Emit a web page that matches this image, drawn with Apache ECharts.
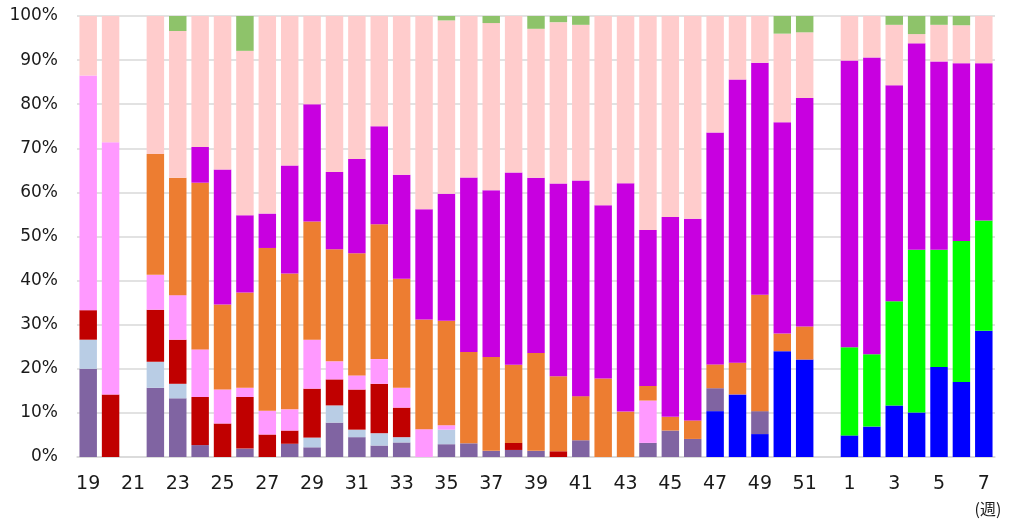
<!DOCTYPE html>
<html>
<head>
<meta charset="utf-8">
<script src="https://cdn.jsdelivr.net/npm/echarts@6/dist/echarts.min.js"></script>
<style>
  html, body { margin: 0; padding: 0; background: #fff; }
  #chart { width: 1009px; height: 519px; }
</style>
</head>
<body>
<div id="chart"></div>
<script>
// Weekly share (%) of each group, week 19 through week 7 of the following year
const weeks = ['19','20','21','22','23','24','25','26','27','28','29','30','31','32','33','34','35','36','37','38','39','40','41','42','43','44','45','46','47','48','49','50','51','52','1','2','3','4','5','6','7'];

const blueShare    = [0,0,null,0,0,0,0,0,0,0,0,0,0,0,0,0,0,0,0,0,0,0,0,0,0,0,0,0,10.4,14.2,5.2,24.0,22.1,null,4.9,6.9,11.7,10.1,20.4,17.0,28.6];
const greenShare   = [0,0,null,0,0,0,0,0,0,0,0,0,0,0,0,0,0,0,0,0,0,0,0,0,0,0,0,0,0,0,0,0,0,null,20.0,16.4,23.6,36.9,26.6,32.0,25.0];
const violetShare  = [20.0,0,null,15.7,13.3,2.7,0,1.9,0,3.0,2.2,7.8,4.5,2.6,3.3,0,2.9,3.1,1.4,1.6,1.4,0,3.8,0,0,3.2,6.0,4.1,5.2,0,5.2,0,0,null,0,0,0,0,0,0,0];
const skyShare     = [6.6,0,null,5.9,3.3,0,0,0,0,0,2.2,3.9,1.7,2.8,1.2,0,3.3,0,0,0,0,0,0,0,0,0,0,0,0,0,0,0,0,null,0,0,0,0,0,0,0];
const redShare     = [6.7,14.2,null,11.8,10.0,10.9,7.6,11.7,5.1,3.0,11.1,5.9,9.1,11.2,6.7,0,0,0,0,1.6,0,1.3,0,0,0,0,0,0,0,0,0,0,0,null,0,0,0,0,0,0,0];
const pinkShare    = [53.2,57.2,null,7.9,10.1,10.8,7.7,2.1,5.4,4.8,11.1,4.1,3.2,5.6,4.5,6.3,1.0,0,0,0,0,0,0,0,0,9.6,0,0,0,0,0,0,0,null,0,0,0,0,0,0,0];
const orangeShare  = [0,0,null,27.4,26.6,37.8,19.3,21.6,36.9,30.8,26.8,25.4,27.7,30.6,24.7,24.9,23.7,20.7,21.3,17.7,22.2,17.0,10.0,17.8,10.3,3.3,3.1,4.2,5.4,7.2,26.4,4.0,7.5,null,0,0,0,0,0,0,0];
const magentaShare = [0,0,null,0,0,8.1,30.6,17.5,7.8,24.5,26.6,17.5,21.4,22.2,23.6,25.0,28.8,39.6,37.8,43.6,39.7,43.7,48.9,39.3,51.8,35.4,45.3,45.7,52.6,64.2,52.6,47.9,51.8,null,65.0,67.3,49.0,46.8,42.7,40.3,35.7];
const roseShare    = [13.5,28.6,null,31.4,33.3,29.7,34.8,37.3,44.8,33.9,20.0,35.4,32.4,25.0,36.0,43.8,39.3,36.6,37.9,35.5,33.8,36.6,35.3,42.9,37.9,48.5,45.6,46.0,26.4,14.4,10.6,20.1,14.9,null,10.1,9.4,13.7,2.1,8.3,8.6,10.7];
const otherShare   = [0,0,null,0,3.4,0,0,7.9,0,0,0,0,0,0,0,0,1.0,0,1.6,0,2.9,1.4,2.0,0,0,0,0,0,0,0,0,4.0,3.7,null,0,0,2.0,4.1,2.0,2.1,0];

const yTicks = [0,10,20,30,40,50,60,70,80,90,100];

// stacking order, bottom to top
const layers = [
  { name: 'blue',    data: blueShare,    color: '#0000FF' },
  { name: 'green',   data: greenShare,   color: '#00FF00' },
  { name: 'violet',  data: violetShare,  color: '#8064A2' },
  { name: 'sky',     data: skyShare,     color: '#B9CDE5' },
  { name: 'red',     data: redShare,     color: '#C00000' },
  { name: 'pink',    data: pinkShare,    color: '#FF99FF' },
  { name: 'orange',  data: orangeShare,  color: '#ED7D31' },
  { name: 'magenta', data: magentaShare, color: '#C800E0' },
  { name: 'rose',    data: roseShare,    color: '#FFCCCC' },
  { name: 'other',   data: otherShare,   color: '#8EC36A' }
];

const chart = echarts.init(document.getElementById('chart'), null, { renderer: 'canvas' });

chart.setOption({
  animation: false,
  backgroundColor: '#ffffff',
  grid: { left: 77, right: 14, top: 16, bottom: 62, containLabel: false },
  xAxis: {
    type: 'category',
    data: weeks,
    axisTick: { show: false },
    axisLine: { lineStyle: { color: '#D9D9D9', width: 1.5 } },
    axisLabel: {
      interval: 1,
      margin: 18,
      color: '#1a1a1a',
      fontFamily: 'DejaVu Sans',
      fontSize: 19
    }
  },
  yAxis: {
    type: 'value',
    min: yTicks[0],
    max: yTicks[yTicks.length - 1],
    interval: 10,
    axisLine: { show: false },
    axisTick: { show: false },
    splitLine: { lineStyle: { color: '#D9D9D9', width: 1.5 } },
    axisLabel: {
      formatter: '{value}%',
      margin: 19,
      color: '#1a1a1a',
      fontFamily: 'DejaVu Sans',
      fontSize: 17
    }
  },
  graphic: [{
    type: 'text',
    x: 988,
    y: 509,
    style: {
      text: '(週)',
      fill: '#1a1a1a',
      font: '16px "Noto Sans CJK JP"',
      align: 'center',
      verticalAlign: 'middle'
    }
  }],
  series: layers.map(l => ({
    name: l.name,
    type: 'bar',
    stack: 'share',
    barCategoryGap: '22%',
    data: l.data,
    itemStyle: { color: l.color },
    emphasis: { disabled: true }
  }))
});
</script>
</body>
</html>
